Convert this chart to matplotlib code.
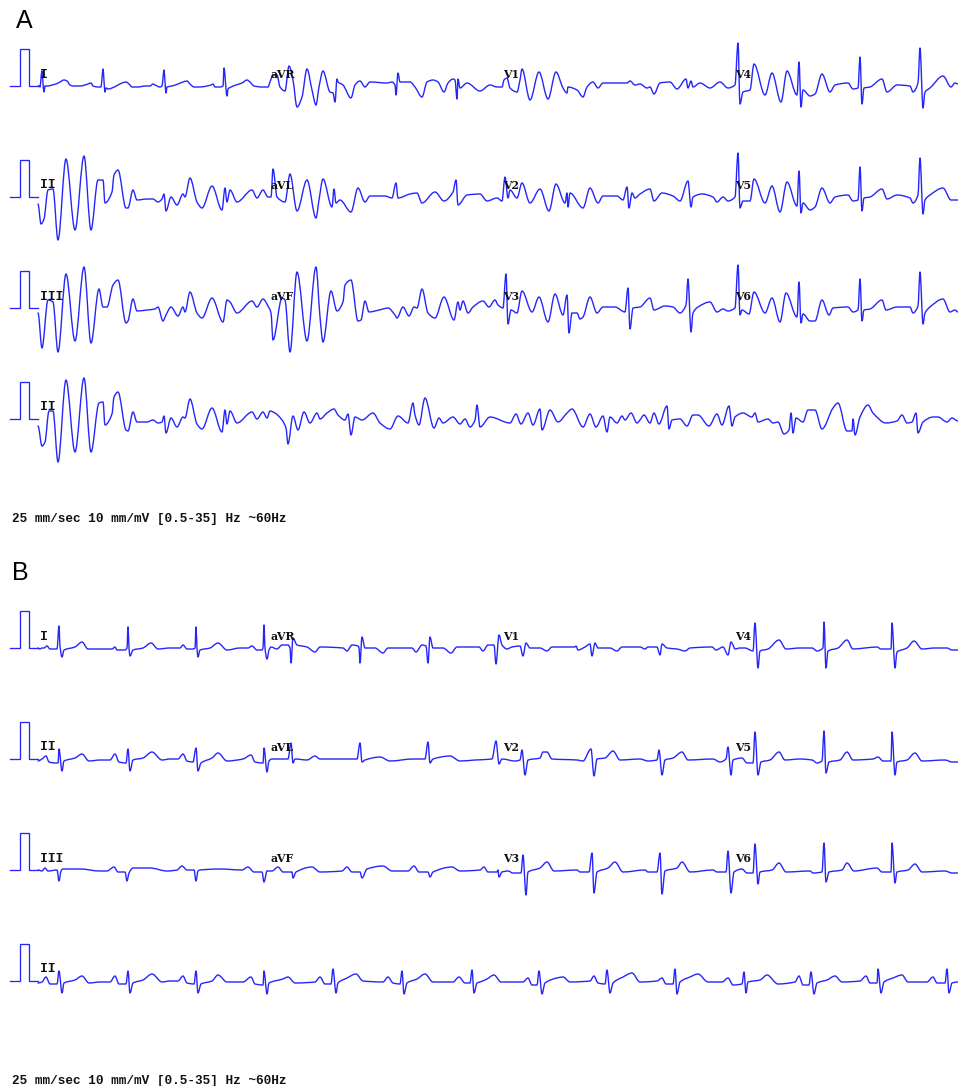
import matplotlib
matplotlib.use("Agg")
import matplotlib.pyplot as plt
from matplotlib.path import Path
from matplotlib.patches import PathPatch
import numpy as np

# Each trace: (time position, deflection above the strip baseline)
A1 = [(38,0),(39,0),(40,-1),(41,8),(42,15),(43,2),(44,-6),(45,0),(48,0),(52,1),(56,2),(60,4),(64,6),(67,5),(70,1),(73,0),(80,0),(85,1),(88,2),(91,3),(93,0),(98,-1),(101,-1),(102,8),(103,17),(104,5),(105,-6),(106,-2),(108,-3),(112,-2),(118,1),(122,3),(126,4),(129,2),(132,-1),(138,-1),(145,0),(150,0),(153,2),(155,1),(160,-1),(162,0),(163,8),(164,16),(165,4),(166,-7),(167,-1),(172,0),(178,2),(183,4),(187,5),(190,2),(194,-1),(200,-1),(207,0),(211,1),(213,2),(215,-1),(220,-1),(223,0),(224,18),(225,10),(226,-3),(227,-10),(228,-3),(231,-1),(236,1),(242,3),(247,6),(250,4),(254,0),(262,-1),(268,-1),
      (270,4),(273,11),(277,11),(280,-1),(285,-5),(289,20),(293,6),(297,-21),(302,-11),(307,17),(312,-4),(316,-19),(319,-1),(323,15),(330,-6),(333,-7),(335,-16),(337,7),(338,4),(343,1),(351,-12),(355,1),(360,5),(365,-1),(370,4),(387,3),(392,4),(395,1),(396,-9),(398,13),(400,4),(410,4),(415,-1),(422,-11),(427,4),(433,6),(438,4),(444,-6),(448,3),(453,7),(455,6),(457,-13),(458,7),(460,-2),(467,3),(480,-5),(490,1),(497,-1),(502,-1),(504,6),(507,8),(510,-2),(517,-6),(520,6),(522,17),(530,-14),(539,14),(548,-13),(556,14),(563,-2),(567,-7),(568,-1),(577,-4),(583,-11),(587,-1),(593,4),(598,-2),(603,3),(613,3),(627,3),(630,5),(635,1),(640,2),
      (647,-2),(650,-1),(654,-8),(660,3),(670,4),(677,-3),(686,7),(688,-2),(691,5),(693,-1),(700,3),(710,-2),(720,4),(728,-2),(735,1),(738,43),(740,-18),(743,-6),(750,-4),(754,22),(765,-9),(772,13),(781,-16),(787,15),(797,-9),(799,24),(801,-21),(803,-4),(810,-10),(815,-8),(822,12),(830,-6),(835,1),(848,3),(853,-3),(858,-2),(860,29),(862,-18),(864,-2),(870,-1),(882,7),(887,-6),(897,1),(910,0),(913,-6),(918,3),(920,38),(923,-22),(925,-6),(930,-2),(943,10),(951,-1),(955,3),(958,2)]

A2 = [(38,-7),(41,-27),(44,-22),(48,7),(53,8),(58,-43),(66,38),(75,-33),(84,41),(91,-33),(98,17),(103,17),(105,-6),(112,5),(114,22),(118,27),(126,-11),(128,-11),(133,7),(137,-3),(147,-2),(153,-2),(158,-5),(162,-2),(164,3),(166,-14),(171,0),(177,-8),(183,3),(185,0),(190,19),(197,-5),(202,-11),(212,11),(222,-13),(225,9),(227,-5),(230,7),(237,-5),(252,7),(257,-1),(263,7),(268,0),(271,0),(273,28),(277,0),(285,-5),(290,23),(297,-14),(307,17),(316,-21),(319,-3),
      (323,18),(332,-10),(334,8),(336,-6),(340,-3),(351,-15),(358,9),(365,-5),(370,1),(385,1),(392,-1),(396,14),(398,-1),(410,3),(417,4),(422,-6),(435,5),(444,-4),(453,5),(456,17),(458,-8),(467,2),(480,3),(487,-4),(497,-1),(502,-4),(505,20),(508,-1),(510,7),(517,-1),(522,14),(530,-6),(540,8),(549,-14),(556,13),(565,-6),(567,4),(568,-10),(570,4),(583,-11),(590,9),(598,-6),(603,1),(617,1),(623,-3),(627,10),(629,-11),(632,4),(635,-1),(640,3),
      (650,8),(654,-4),(662,4),(673,1),(680,-4),(688,16),(691,-10),(693,0),(702,3),(713,0),(717,-5),(723,0),(728,-4),(735,0),(738,44),(740,-11),(743,-4),(750,-4),(754,18),(765,-6),(772,11),(780,-15),(787,15),(797,-9),(799,26),(801,-16),(803,-6),(810,-13),(815,-10),(822,9),(830,-6),(835,0),(848,2),(853,-4),(858,-3),(860,30),(862,-14),(864,-1),(870,0),(882,8),(887,-2),(897,2),(910,-1),(913,-6),(918,2),(920,39),(923,-17),(925,-3),(930,2),(943,9),(951,-3),(958,-3)]

A3 = [(38,-5),(42,-40),(48,8),(53,6),(58,-44),(66,34),(75,-33),(84,41),(91,-35),(99,19),(103,1),(107,1),(113,23),(118,28),(126,-15),(128,-13),(133,9),(137,-3),(147,-2),(155,-1),(158,1),(163,-13),(166,-7),(171,1),(178,-8),(183,1),(185,-4),(190,16),(197,-5),(202,-10),(212,10),(223,-14),(227,8),(230,6),(237,-5),(252,7),(257,1),(263,9),(268,2),(271,-5),(273,-32),(282,10),(285,8),(290,-44),(297,36),(307,-33),(316,41),(320,-9),
      (323,-34),(331,17),(337,-3),(343,6),(345,23),(351,28),(358,-13),(361,-12),(365,7),(369,-4),(375,-3),(383,-1),(388,0),(395,-7),(397,-10),(403,1),(409,-8),(414,1),(417,0),(422,19),(428,-5),(435,-10),(444,11),(454,-12),(458,6),(460,-2),(463,7),(468,-5),(473,1),(483,7),(489,1),(495,8),(498,3),(503,0),(506,34),(508,-16),(511,-2),(517,-5),(522,17),(532,-4),(539,11),(548,-14),(555,14),(563,-7),(567,13),(569,-25),(572,-5),(577,-5),(580,-11),(583,-9),(590,11),(597,-5),(603,1),(615,1),(625,-4),(628,20),(630,-21),(633,0),(640,1),
      (650,10),(654,-2),(665,2),(673,1),(680,-5),(686,3),(688,29),(691,-24),(693,-5),(698,1),(710,6),(717,-4),(723,-1),(728,-3),(735,0),(738,43),(740,-7),(742,-2),(749,-6),(754,16),(765,-5),(772,10),(780,-14),(786,15),(797,-9),(799,26),(801,-15),(803,-6),(810,-13),(815,-13),(822,8),(829,-7),(833,0),(848,1),(853,-4),(858,-2),(860,29),(862,-13),(864,-2),(870,-1),(882,8),(886,-2),(897,1),(910,1),(913,-5),(918,2),(920,36),(923,-16),(925,-5),(930,1),(943,9),(950,-4),(955,-2),(958,-4)]

A4 = [(38,-7),(42,-27),(45,-23),(49,8),(53,8),(58,-43),(66,39),(75,-33),(84,41),(91,-33),(99,16),(103,17),(105,-6),(112,5),(114,22),(118,27),(126,-11),(128,-12),(133,7),(137,-3),(147,-3),(153,-1),(158,-4),(162,-3),(164,3),(166,-14),(171,1),(177,-8),(183,2),(185,1),(190,20),(197,-5),(202,-10),(212,11),(222,-13),(225,9),(227,-5),(230,8),(237,-4),(252,7),(257,0),(263,7),(267,1),(270,8),(275,6),(282,-1),(286,-9),(288,-25),(293,3),(298,-11),(304,7),(310,-4),(317,6),(320,0),
      (327,6),(334,10),(338,4),(345,-1),(348,5),(351,-16),(355,2),(362,-1),(373,6),(380,-4),(390,-10),(398,3),(408,-4),(413,16),(415,4),(419,-6),(425,21),(434,-9),(439,1),(443,-4),(453,2),(460,-5),(465,0),(470,-8),(475,-1),(477,14),(480,-8),(490,2),(510,-4),(516,5),(521,-5),(528,6),(533,-6),(540,10),(542,-11),(550,9),(558,-3),(567,6),(572,10),(583,-8),(590,5),(596,-8),(603,3),(607,-13),(610,2),(617,-4),(622,3),(625,-1),(631,6),(637,-4),(640,-1),
      (644,4),(650,-4),(654,6),(659,-5),(667,13),(669,-10),(672,-1),(680,0),(687,-7),(693,4),(698,4),(709,-7),(717,5),(722,-6),(729,13),(732,-7),(735,2),(743,6),(752,2),(755,6),(758,-3),(768,0),(773,-4),(778,-3),(784,-15),(789,-11),(791,6),(793,-14),(796,1),(803,-3),(808,9),(815,9),(822,-10),(833,11),(838,16),(847,-12),(852,-12),(853,0),(855,-16),(860,2),(868,14),(873,6),(886,-4),(897,-2),(902,4),(907,-4),(912,-3),(916,6),(918,-14),(923,-3),(933,2),(938,2),(947,-3),(952,1),(958,-2)]

B1 = [(38,0),(40,-1),(42,0),(44,0),(47,2),(50,-1),(52,-1),(57,-1),(59,22),(60,2),(62,-9),(64,-2),(75,1),(82,6),(88,-1),(100,-1),(112,-1),(115,1),(117,-2),(125,-2),(127,0),(128,21),(129,0),(130,-8),(133,-2),(143,0),(151,5),(158,-1),(170,0),(180,0),(183,3),(187,-1),(193,-1),(195,0),(196,21),(197,0),(198,-9),(200,-2),(210,0),(218,5),(227,-2),(240,0),(248,0),(252,2),(257,-2),(262,-2),(263,0),(264,23),(265,0),(267,-11),(269,-2),(271,1),(277,-1),(282,3),(288,3),(290,0),(291,-15),(293,10),(297,3),(307,1),(315,-4),(320,1),
      (343,0),(347,-3),(352,3),(358,2),(359,0),(360,-15),(362,11),(365,0),(375,0),(383,-5),(388,0),(412,0),(416,-4),(422,3),(426,2),(428,-15),(430,11),(433,0),(443,0),(451,-5),(457,1),(479,1),(483,-3),(488,3),(494,3),(496,-16),(499,13),(502,3),(507,-1),(512,1),(520,2),(523,-8),(526,5),(530,0),(540,0),(547,-3),(552,1),(575,1),(576,2),(578,-2),(585,1),(590,4),(592,-8),(595,5),(598,0),(610,0),(617,-3),(622,1),(640,1),
      (645,-1),(648,1),(657,1),(660,-7),(662,4),(667,0),(677,-1),(685,-3),(690,0),(712,1),(716,-2),(723,1),(728,-7),(731,6),(733,3),(735,-1),(740,0),(745,0),(753,-3),(755,25),(758,-20),(760,-3),(768,-1),(779,8),(786,-1),(800,0),(812,0),(817,-3),(823,0),(824,26),(826,-20),(828,-3),(838,0),(847,8),(853,-1),(865,0),(877,1),(881,-1),(891,-1),(892,25),(895,-20),(897,-4),(907,0),(914,7),(922,-1),(935,0),(947,0),(952,-2),(958,-2)]

B2 = [(38,-2),(42,0),(46,3),(49,-3),(55,-4),(58,-4),(59,10),(62,-12),(64,-2),(75,1),(82,5),(89,-2),(100,-1),(110,-1),(115,5),(119,-3),(126,-4),(128,10),(130,-12),(133,-1),(143,1),(152,7),(162,-1),(170,0),(178,0),(183,5),(187,-2),(193,-3),(196,11),(198,-12),(201,-4),(212,1),(218,6),(227,-2),(243,0),(251,4),(255,-3),(263,-4),(264,11),(267,-13),(269,-2),(272,0),(288,0),(291,16),(293,-4),(295,0),(307,-1),(315,3),(320,0),
      (357,0),(360,16),(362,-3),(365,-1),(380,2),(390,-2),(413,0),(425,0),(428,17),(430,-4),(433,0),(450,3),(460,-2),(475,-1),(492,0),(496,18),(499,-5),(502,0),(515,-2),(520,-1),(522,9),(525,-16),(528,-1),(540,1),(543,7),(547,7),(552,0),(577,-1),(583,-2),(591,10),(594,-17),(597,0),(605,1),(613,8),(620,-1),(640,0),
      (648,-2),(657,-1),(659,9),(662,-16),(665,-1),(673,1),(682,7),(688,-1),(713,0),(720,-3),(726,0),(728,12),(731,-16),(733,-1),(742,1),(747,-4),(753,-4),(755,27),(758,-16),(761,-3),(770,-1),(779,7),(785,-1),(800,0),(812,-1),(817,-4),(822,-2),(824,28),(826,-14),(829,-3),(840,-1),(847,7),(853,-1),(873,0),(878,2),(883,-2),(891,-2),(892,27),(895,-16),(897,-3),(907,-1),(915,6),(922,-2),(945,-1),(952,-3),(958,-3)]

B3 = [(38,0),(42,-1),(45,2),(48,-1),(57,0),(59,-11),(61,-1),(63,1),(80,1),(100,-1),(107,-1),(114,3),(118,-2),(125,-2),(127,-11),(129,-3),(133,2),(150,2),(167,-1),(177,0),(182,4),(187,0),(194,0),(196,-11),(198,-1),(200,0),(220,1),(242,0),(248,3),(254,-2),(262,-2),(264,-12),(267,-1),(272,-1),(278,3),(283,-2),(292,-2),(293,-8),(296,-2),(312,3),(320,-2),(342,-1),(347,3),(352,-2),(360,-2),(362,-8),(367,1),(383,4),(392,-1),(408,-1),(414,4),(419,-2),(428,-2),(430,-7),(433,-2),(452,3),(460,-1),(480,0),
      (484,3),(488,-2),(497,-2),(498,0),(499,-7),(502,-2),(508,-1),(513,-3),(521,-3),(523,15),(526,-25),(528,-2),(540,2),(547,8),(554,-1),(577,0),(580,-2),(589,-2),(592,17),(594,-23),(597,-2),(608,2),(615,8),(623,-2),(645,0),(648,-2),(657,-2),(660,17),(662,-24),(665,-1),(677,2),(682,8),(690,-2),(713,0),(717,-2),(726,-2),(728,19),(731,-23),(734,-2),(742,1),(747,-3),(753,-3),(755,26),(758,-14),(760,-2),(772,0),(779,7),(786,-2),(810,-1),(813,-3),(822,-2),(824,27),(826,-12),(829,-2),(842,0),(847,7),(854,-1),(877,2),(882,-2),(891,-2),(892,27),(895,-13),(897,-2),(908,0),(915,6),(922,-2),(945,-1),(952,-3),(958,-3)]

B4 = [(38,-2),(42,-1),(46,4),(50,-3),(57,-3),(59,10),(62,-12),(64,-2),(75,1),(82,5),(89,-2),(100,-1),(110,-1),(115,5),(119,-3),(126,-3),(128,10),(130,-12),(133,-2),(143,1),(152,7),(162,-1),(170,0),(178,0),(183,5),(187,-2),(194,-3),(196,10),(198,-12),(201,-3),(212,0),(218,6),(227,-1),(243,-1),(251,4),(255,-3),(263,-4),(264,10),(267,-13),(269,-2),(283,2),(288,4),(295,-2),(315,-1),(320,4),(325,-3),(331,-3),(333,12),(336,-12),(338,-2),(347,3),(356,7),(363,0),(383,-1),(388,4),(393,-2),(400,-3),(402,10),(404,-13),(407,-2),(417,2),(425,7),(433,-1),(453,-1),(459,4),(465,-2),(470,-2),(472,11),(474,-12),(477,-2),
      (480,-1),(487,2),(494,6),(501,-1),(523,-1),(528,3),(532,-4),(537,-4),(539,10),(542,-13),(545,-2),(557,3),(563,4),(570,-1),(590,0),(594,5),(598,-2),(605,-3),(607,11),(610,-12),(613,-2),(623,4),(632,8),(640,-1),(657,0),(662,3),(666,-3),(673,-3),(675,12),(677,-13),(680,-1),(690,4),(698,7),(708,-1),(722,-1),(728,3),(733,-4),(742,-3),(744,9),(746,-12),(748,-1),(760,1),(767,6),(778,-3),(795,-1),(799,5),(803,-4),(809,-4),(811,9),(814,-13),(817,-2),(827,1),(835,5),(842,-1),(860,0),(866,5),(870,-2),(877,-2),(878,12),(881,-12),(884,-1),(893,3),(902,6),(908,-1),(927,-1),(933,4),(937,-2),(945,-2),(947,12),(949,-12),(952,-2),(958,-1)]

# calibration pulse drawn at the start of each strip
CAL_T = [10, 20, 20, 29, 29, 38]
CAL_V = [0, 0, 37.5, 37.5, 0, 0]

TRACES = [A1, A2, A3, A4, B1, B2, B3, B4]
BASELINES = [86, 197, 308, 419, 648, 759, 870, 981]
LEADS = [["I", "aVR", "V1", "V4"], ["II", "aVL", "V2", "V5"],
         ["III", "aVF", "V3", "V6"], ["II"]]
LEAD_T = [40, 271, 503, 735]
FOOTER = "25 mm/sec 10 mm/mV [0.5-35] Hz ~60Hz"
FOOTER_Y = [519, 1081]
PANELS = [("A", 16, 21), ("B", 12, 573.5)]

BLUE = "#2626fa"


def curve_path(t, y):
    """Bezier path through every read vertex, flat at each local extreme."""
    h = np.diff(t)
    s = np.diff(y) / h
    m = np.zeros_like(y)
    for i in range(1, len(y) - 1):
        if s[i - 1] * s[i] > 0:
            m[i] = 2 * s[i - 1] * s[i] / (s[i - 1] + s[i])
    verts = [(t[0], y[0])]
    codes = [Path.MOVETO]
    for i in range(len(h)):
        verts += [(t[i] + h[i] / 3, y[i] + m[i] * h[i] / 3),
                  (t[i + 1] - h[i] / 3, y[i + 1] - m[i + 1] * h[i] / 3),
                  (t[i + 1], y[i + 1])]
        codes += [Path.CURVE4] * 3
    return Path(verts, codes)


fig = plt.figure(figsize=(9.58, 10.86), dpi=100, facecolor="white")
ax = fig.add_axes([0, 0, 1, 1])
ax.set_xlim(0, 958)
ax.set_ylim(1086, 0)
ax.axis("off")

for trace, base in zip(TRACES, BASELINES):
    t, v = np.array(trace, dtype=float).T
    ax.plot(CAL_T, base - np.array(CAL_V), color=BLUE, lw=0.95, solid_joinstyle="miter")
    ax.add_patch(PathPatch(curve_path(t, base - v), fill=False, edgecolor=BLUE,
                           lw=1.0, joinstyle="round", capstyle="round"))

mono = dict(family="Liberation Mono", weight="bold", color="#111111", fontsize=9.4,
            va="center", ha="left")
slab = dict(family="DejaVu Serif", weight="bold", color="#111111", fontsize=7.8,
            va="center", ha="left")
for p in range(2):
    for r, row in enumerate(LEADS):
        base = BASELINES[p * 4 + r]
        for name, t in zip(row, LEAD_T):
            style = mono if set(name) == {"I"} else slab
            ax.text(t, base - 11.5, name, **style)
    ax.text(12, FOOTER_Y[p], FOOTER, **{**mono, "fontsize": 9.2})

for name, x, y in PANELS:
    ax.text(x, y, name, family="Liberation Sans", fontsize=18, color="black",
            va="center", ha="left")

fig.savefig("out.png", dpi=100)
